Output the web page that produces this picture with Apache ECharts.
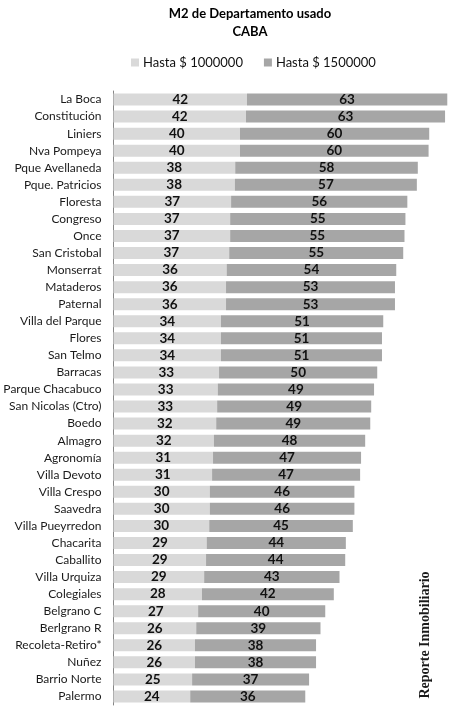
<!DOCTYPE html>
<html>
<head>
<meta charset="utf-8">
<script src="https://cdn.jsdelivr.net/npm/echarts@6/dist/echarts.min.js"></script>
<style>
html,body{margin:0;padding:0;background:#fff;}
#chart{width:459px;height:709px;}
</style>
</head>
<body>
<div id="chart"></div>
<script>
const categories = ["La Boca","Constitución","Liniers","Nva Pompeya","Pque Avellaneda","Pque. Patricios","Floresta","Congreso","Once","San Cristobal","Monserrat","Mataderos","Paternal","Villa del Parque","Flores","San Telmo","Barracas","Parque Chacabuco","San Nicolas (Ctro)","Boedo","Almagro","Agronomía","Villa Devoto","Villa Crespo","Saavedra","Villa Pueyrredon","Chacarita","Caballito","Villa Urquiza","Colegiales","Belgrano C","Berlgrano R","Recoleta-Retiro*","Nuñez","Barrio Norte","Palermo"];
const hasta1000000 = [42.1,41.8,39.9,39.9,38.4,38.3,37.1,36.8,36.8,36.5,35.7,35.5,35.5,33.9,33.9,33.9,33.3,32.9,32.7,32.4,31.7,31.4,31.1,30.4,30.4,30.2,29.4,29.2,28.6,27.9,26.7,26.1,25.7,25.7,24.8,24.2];
const hasta1500000 = [63.2,62.8,59.7,59.5,57.6,57.4,55.6,55.3,55.0,54.9,53.5,53.3,53.3,51.2,50.8,50.8,49.9,49.3,48.6,48.6,47.7,46.7,46.7,45.6,45.6,45.3,43.9,43.9,42.7,41.6,40.1,39.2,38.2,38.2,36.9,36.3];
const seriesNames = ["Hasta $ 1000000","Hasta $ 1500000"];
const titleLines = ["M2 de Departamento usado","CABA"];
const watermark = "Reporte Inmobiliario";

const FONT = "Lato, 'Open Sans', sans-serif";
const chart = echarts.init(document.getElementById('chart'), null, {renderer:'canvas'});
const labelCfg = {
  show:true, position:'inside', color:'#111', fontFamily:FONT, fontWeight:'bold', fontSize:13.5,
  formatter: p => Math.round(p.value)
};
chart.setOption({
  animation:false,
  backgroundColor:'#fff',
  graphic:[
    {type:'text', x:250, y:14, style:{text:titleLines[0], fill:'#000', font:"bold 13px "+FONT, textAlign:'center', textVerticalAlign:'middle'}},
    {type:'text', x:250, y:32, style:{text:titleLines[1], fill:'#000', font:"bold 13px "+FONT, textAlign:'center', textVerticalAlign:'middle'}},
    {type:'text', x:425.5, y:635, rotation:Math.PI/2, style:{text:watermark, fill:'#1a1a1a', font:"bold 14px 'Liberation Serif', serif", textAlign:'center', textVerticalAlign:'middle'}}
  ],
  legend:{
    data:seriesNames, left:131, top:56, padding:[0,0,0,0], itemWidth:8, itemHeight:8, itemGap:21,
    icon:'rect',
    textStyle:{fontFamily:FONT, fontSize:13, color:'#111', padding:[0,0,0,-1]}
  },
  grid:{left:113.5, right:9.5, top:91, bottom:4, containLabel:false},
  xAxis:{type:'value', min:0, max:106, show:false},
  yAxis:{
    type:'category', data:categories, inverse:true,
    axisLine:{show:true, lineStyle:{color:'#868686', width:1}},
    axisTick:{show:false},
    axisLabel:{fontFamily:FONT, fontSize:12, color:'#1a1a1a', margin:12}
  },
  series:[
    {name:seriesNames[0], type:'bar', stack:'a', data:hasta1000000, barWidth:12, itemStyle:{color:'#d9d9d9'}, label:labelCfg},
    {name:seriesNames[1], type:'bar', stack:'a', data:hasta1500000, barWidth:12, itemStyle:{color:'#a6a6a6'}, label:labelCfg}
  ]
});
</script>
</body>
</html>
